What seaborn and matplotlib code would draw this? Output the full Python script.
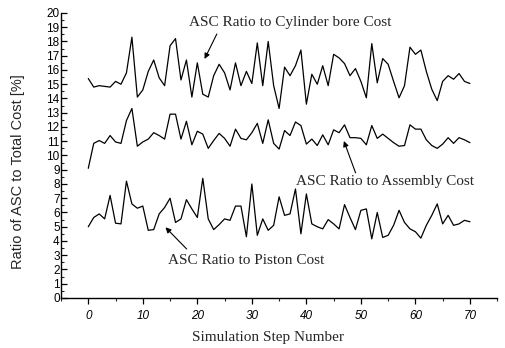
import numpy as np
import pandas as pd
import matplotlib
matplotlib.use("Agg")
import matplotlib.pyplot as plt
import seaborn as sns
from matplotlib.ticker import MultipleLocator

steps = list(range(71))

cylinder_bore = [15.4, 14.8, 14.9, 14.85, 14.8, 15.2, 15.0, 15.8, 18.3, 14.1,
                 14.6, 15.9, 16.7, 15.45, 14.9, 17.7, 18.2, 15.3, 16.7, 14.1,
                 16.5, 14.3, 14.1, 15.6, 16.4, 15.8, 14.6, 16.5, 14.9, 15.9,
                 15.05, 17.9, 14.9, 18.0, 14.9, 13.3, 16.2, 15.6, 16.3, 17.4,
                 13.6, 15.7, 15.0, 16.3, 14.9, 17.1, 16.85, 16.45, 15.6, 16.1,
                 15.2, 14.05, 17.85, 15.1, 16.8, 16.4, 15.2, 14.05, 14.9, 17.6,
                 17.1, 17.4, 15.9, 14.65, 13.85, 15.2, 15.6, 15.35, 15.75, 15.2,
                 15.05]

assembly = [9.1, 10.85, 11.05, 10.85, 11.4, 10.95, 10.85, 12.45, 13.3, 10.65,
            10.95, 11.15, 11.6, 11.4, 11.15, 12.9, 12.9, 11.15, 12.4, 10.75,
            11.7, 11.5, 10.5, 11.05, 11.55, 11.2, 10.65, 11.85, 11.2, 11.1,
            11.6, 12.25, 10.85, 12.5, 10.85, 10.45, 11.75, 11.4, 12.35, 12.1,
            10.8, 11.15, 10.7, 11.45, 10.75, 11.8, 11.6, 12.15, 11.25, 11.25,
            11.2, 10.75, 12.1, 11.2, 11.5, 11.2, 10.9, 10.65, 10.7, 12.15,
            11.85, 11.85, 11.1, 10.7, 10.5, 10.8, 11.25, 10.85, 11.25, 11.1,
            10.9]

piston = [5.0, 5.65, 5.9, 5.55, 7.2, 5.25, 5.2, 8.2, 6.6, 6.3,
          6.45, 4.75, 4.8, 5.9, 6.35, 7.0, 5.3, 5.55, 6.9, 6.25,
          5.65, 8.4, 5.55, 4.8, 5.15, 5.55, 5.45, 6.45, 6.45, 4.3,
          8.0, 4.4, 5.55, 4.75, 5.1, 7.1, 5.8, 5.9, 7.65, 4.5,
          7.3, 5.2, 5.0, 4.85, 5.5, 5.2, 4.85, 6.55, 5.65, 4.8,
          6.15, 6.25, 4.15, 6.0, 4.25, 4.4, 5.1, 6.15, 5.3, 4.85,
          4.65, 4.2, 5.1, 5.8, 6.6, 5.2, 5.8, 5.1, 5.2, 5.45,
          5.35]

series_names = ["Cylinder bore", "Assembly", "Piston"]
x_ticks = [0, 10, 20, 30, 40, 50, 60, 70]
y_ticks = list(range(0, 21))

df = pd.concat([
    pd.DataFrame({"step": steps, "ratio": cylinder_bore, "series": series_names[0]}),
    pd.DataFrame({"step": steps, "ratio": assembly, "series": series_names[1]}),
    pd.DataFrame({"step": steps, "ratio": piston, "series": series_names[2]}),
])

sns.set_style("ticks")
plt.rcParams["font.family"] = ["Liberation Sans", "DejaVu Sans"]

fig = plt.figure(figsize=(5.06, 3.48), dpi=100)
ax = fig.add_axes([0.1206, 0.1437, 0.862, 0.819])

sns.lineplot(data=df, x="step", y="ratio", hue="series",
             palette=["black"] * 3, legend=False, linewidth=0.9, ax=ax)

ax.set_xlim(-5, 75)
ax.set_ylim(0, 20)
ax.set_xticks(x_ticks)
ax.set_yticks(y_ticks)
ax.xaxis.set_minor_locator(MultipleLocator(5))
ax.yaxis.set_minor_locator(MultipleLocator(0.5))
sns.despine(ax=ax)
for s in ["left", "bottom"]:
    ax.spines[s].set_linewidth(1.0)
    ax.spines[s].set_color("black")

ax.tick_params(axis="x", which="major", direction="out", length=4, width=0.9,
               labelsize=8.5, pad=5, colors="black")
ax.tick_params(axis="x", which="minor", direction="out", length=2, width=0.8)
ax.tick_params(axis="y", which="major", direction="in", length=4, width=0.9,
               labelsize=8.5, pad=1, colors="black")
ax.tick_params(axis="y", which="minor", direction="in", length=2, width=0.8)
for lab in ax.get_xticklabels():
    lab.set_fontstyle("italic")

ax.set_xlabel("Simulation Step Number", family=["Liberation Serif", "DejaVu Serif"],
              fontsize=11)
ax.xaxis.set_label_coords(0.475, -0.115)
ax.set_ylabel("Ratio of ASC to Total Cost [%]", fontsize=10.5)
ax.yaxis.set_label_coords(-0.083, 0.445)

serif = ["Liberation Serif", "DejaVu Serif"]
arrow = dict(arrowstyle="-|>", color="black", lw=0.8, mutation_scale=8)
ax.text(37.0, 19.35, "ASC Ratio to Cylinder bore Cost",
        ha="center", va="center", fontsize=11, family=serif)
ax.annotate("", xy=(21.1, 16.6), xytext=(23.8, 18.7), arrowprops=arrow)
ax.text(54.4, 8.2, "ASC Ratio to Assembly Cost",
        ha="center", va="center", fontsize=11, family=serif)
ax.annotate("", xy=(46.7, 11.2), xytext=(49.2, 8.6), arrowprops=arrow)
ax.text(29.0, 2.6, "ASC Ratio to Piston Cost",
        ha="center", va="center", fontsize=11, family=serif)
ax.annotate("", xy=(13.8, 5.1), xytext=(18.4, 3.3), arrowprops=arrow)

fig.savefig("out.png", dpi=100)
